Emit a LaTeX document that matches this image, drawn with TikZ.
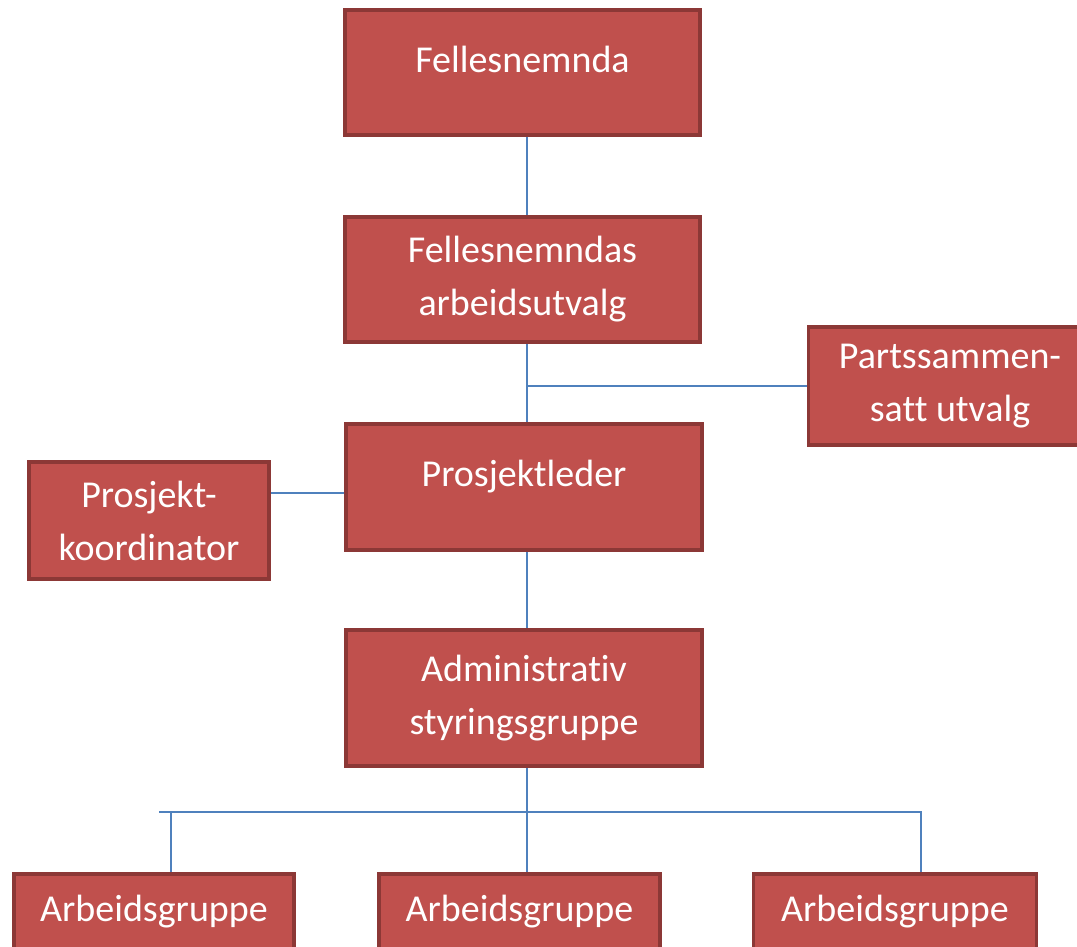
\documentclass[tikz,border=0pt]{standalone}
\usepackage{fontspec}
\setmainfont{Carlito}[Ligatures={NoCommon,NoContextual,NoRequired}, RawFeature={-liga;-clig;-dlig}]
\usetikzlibrary{positioning,calc}
\definecolor{boxred}{HTML}{C0504D}
\definecolor{boxedge}{HTML}{8C3836}
\definecolor{linkblue}{HTML}{4F81BD}
\tikzset{
	unit/.style={draw=boxedge, fill=boxred, line width=3.5pt, text=white, align=center, inner sep=0pt,
		font=\fontsize{38}{53}\selectfont},
	oneline/.style={text height=28pt, text depth=29pt},
	link/.style={draw=linkblue, line width=1.5pt},
}
\begin{document}
\begin{tikzpicture}[x=1pt,y=-1pt]
			\useasboundingbox (0,0) rectangle (1077,946);
			\clip (0,0) rectangle (1077,946);
			\coordinate (spine) at (527,0);
			\coordinate (bus) at (0,812);
			
			\node[unit, oneline, minimum width=355pt, minimum height=125pt] (fn) at (522.5,72.5) {Fellesnemnda};
			\node[unit, minimum width=355pt, minimum height=125pt] (fau) at (522.5,279.5) {Fellesnemndas\\arbeidsutvalg};
			\node[unit, minimum width=283pt, minimum height=118pt] (psu) at (950,386) {Partssammen-\\satt utvalg};
			\node[unit, oneline, minimum width=356pt, minimum height=126pt] (pl) at (524,487) {Prosjektleder};
			\node[unit, minimum width=240pt, minimum height=117pt] (pk) at (149,520.5) {Prosjekt-\\koordinator};
			\node[unit, minimum width=356pt, minimum height=136pt] (asg) at (524,698) {Administrativ\\styringsgruppe};
			\node[unit, minimum width=280pt, minimum height=76pt] (ag1) at (154,912) {Arbeidsgruppe};
			\node[unit, minimum width=281pt, minimum height=76pt] (ag2) at (519.5,912) {Arbeidsgruppe};
			\node[unit, minimum width=283pt, minimum height=76pt] (ag3) at (895,912) {Arbeidsgruppe};
			
			\draw[link] (fn.south -| spine) -- (fau.north -| spine);
			\draw[link] (fau.south -| spine) -- (pl.north -| spine);
			\draw[link] (spine |- psu.west) -- (psu.west);
			\draw[link] ([yshift=-6pt]pl.west) -- ([yshift=-6pt]pl.west -| pk.east);
			\draw[link] (pl.south -| spine) -- (asg.north -| spine);
			\draw[link] (asg.south -| spine) -- (ag2.north -| spine);
			
			\coordinate (b1) at (171,0);
			\coordinate (b3) at (921,0);
			\draw[link] ([xshift=-12pt]b1 |- bus) -- (b3 |- bus) -- (b3 |- ag3.north);
			\draw[link] (b1 |- bus) -- (b1 |- ag1.north);
		\end{tikzpicture}
\end{document}
